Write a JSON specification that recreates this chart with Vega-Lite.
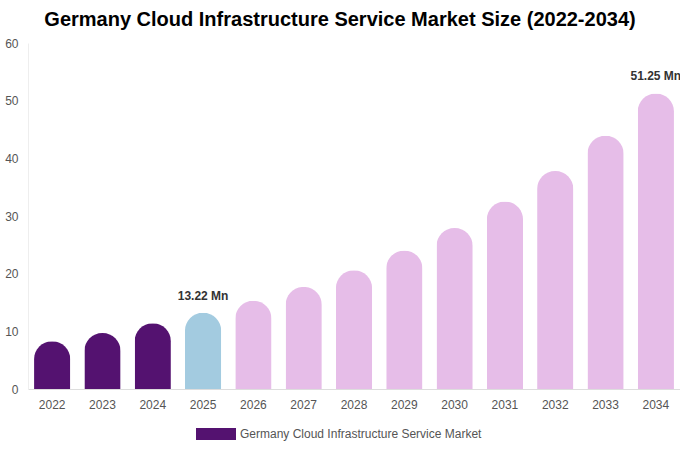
{
  "$schema": "https://vega.github.io/schema/vega-lite/v6.json",
  "autosize": "none",
  "width": 652,
  "height": 346,
  "padding": {"left": 28, "top": 43, "right": 0, "bottom": 61},
  "background": "white",
  "config": {
    "font": "Liberation Sans",
    "view": {"stroke": null}
  },
  "title": {
    "text": "Germany Cloud Infrastructure Service Market Size (2022-2034)",
    "fontSize": 20,
    "fontWeight": "bold",
    "color": "#000000",
    "anchor": "middle",
    "dx": -14,
    "offset": 7
  },
  "data": {
    "values": [
      {"year": "2022", "value": 8.3, "series": "Germany Cloud Infrastructure Service Market", "label": ""},
      {"year": "2023", "value": 9.7, "series": "Germany Cloud Infrastructure Service Market", "label": ""},
      {"year": "2024", "value": 11.4, "series": "Germany Cloud Infrastructure Service Market", "label": ""},
      {"year": "2025", "value": 13.22, "series": "Base Year", "label": "13.22 Mn"},
      {"year": "2026", "value": 15.3, "series": "Forecast", "label": ""},
      {"year": "2027", "value": 17.7, "series": "Forecast", "label": ""},
      {"year": "2028", "value": 20.6, "series": "Forecast", "label": ""},
      {"year": "2029", "value": 24.0, "series": "Forecast", "label": ""},
      {"year": "2030", "value": 27.9, "series": "Forecast", "label": ""},
      {"year": "2031", "value": 32.5, "series": "Forecast", "label": ""},
      {"year": "2032", "value": 37.8, "series": "Forecast", "label": ""},
      {"year": "2033", "value": 43.9, "series": "Forecast", "label": ""},
      {"year": "2034", "value": 51.25, "series": "Forecast", "label": "51.25 Mn"}
    ]
  },
  "encoding": {
    "x": {
      "field": "year",
      "type": "ordinal",
      "title": null,
      "scale": {"paddingInner": 0.28, "paddingOuter": 0.12},
      "axis": {
        "labelAngle": 0,
        "labelFontSize": 12,
        "labelColor": "#555555",
        "labelPadding": 10,
        "ticks": false,
        "domainColor": "#dddddd"
      }
    },
    "y": {
      "field": "value",
      "type": "quantitative",
      "title": null,
      "scale": {"domain": [0, 60]},
      "axis": {
        "values": [0, 10, 20, 30, 40, 50, 60],
        "grid": false,
        "ticks": false,
        "labelFontSize": 12,
        "labelColor": "#555555",
        "labelPadding": 10,
        "domainColor": "#eeeeee"
      }
    }
  },
  "layer": [
    {
      "mark": {"type": "bar", "cornerRadiusTopLeft": 18, "cornerRadiusTopRight": 18},
      "encoding": {
        "color": {
          "field": "series",
          "type": "nominal",
          "scale": {
            "domain": ["Germany Cloud Infrastructure Service Market", "Base Year", "Forecast"],
            "range": ["#541270", "#a3cbe0", "#e6bde8"]
          },
          "legend": {
            "orient": "none",
            "legendX": 168,
            "legendY": 371,
            "direction": "horizontal",
            "title": null,
            "values": ["Germany Cloud Infrastructure Service Market"],
            "symbolType": "M-1,-0.3H1V0.3H-1Z",
            "symbolSize": 1600,
            "symbolStrokeWidth": 0,
            "labelFontSize": 12,
            "labelLimit": 400,
            "labelColor": "#555555"
          }
        }
      }
    },
    {
      "transform": [{"filter": "datum.label != ''"}],
      "mark": {"type": "text", "dy": -17, "fontSize": 12, "fontWeight": "bold", "color": "#333333"},
      "encoding": {"text": {"field": "label"}}
    }
  ]
}
